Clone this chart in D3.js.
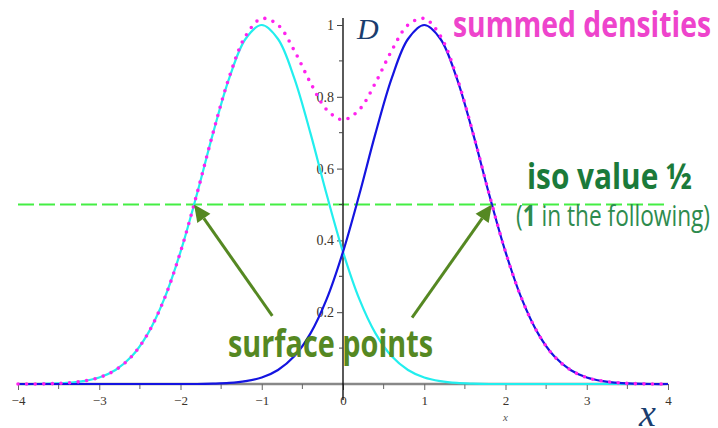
<!DOCTYPE html>
<html><head><meta charset="utf-8">
<script src="https://cdn.jsdelivr.net/npm/d3@7"></script>
<style>body{margin:0;background:#fff}svg{display:block}</style>
</head><body>
<svg id="c" width="718" height="428"></svg>
<script>
const xValues = [-4,-3.8,-3.6,-3.4,-3.2,-3,-2.8,-2.6,-2.4,-2.2,-2,-1.8,-1.6,-1.4,-1.2,-1,-0.8,-0.6,-0.4,-0.2,0,0.2,0.4,0.6,0.8,1,1.2,1.4,1.6,1.8,2,2.2,2.4,2.6,2.8,3,3.2,3.4,3.6,3.8,4];
const leftDensity = [0,0,0.001,0.003,0.008,0.018,0.039,0.077,0.141,0.237,0.368,0.527,0.698,0.852,0.961,1,0.961,0.852,0.698,0.527,0.368,0.237,0.141,0.077,0.039,0.018,0.008,0.003,0.001,0,0,0,0,0,0,0,0,0,0,0,0];
const rightDensity = [0,0,0,0,0,0,0,0,0,0,0,0,0.001,0.003,0.008,0.018,0.039,0.077,0.141,0.237,0.368,0.527,0.698,0.852,0.961,1,0.961,0.852,0.698,0.527,0.368,0.237,0.141,0.077,0.039,0.018,0.008,0.003,0.001,0,0];
const summedDensity = [0,0,0.001,0.003,0.008,0.018,0.039,0.077,0.141,0.237,0.368,0.528,0.699,0.855,0.969,1.018,1.000,0.929,0.839,0.764,0.736,0.764,0.839,0.929,1.000,1.018,0.969,0.855,0.699,0.528,0.368,0.237,0.141,0.077,0.039,0.018,0.008,0.003,0.001,0,0];
const xTicks = [-4,-3,-2,-1,0,1,2,3,4];
const xMinorTicks = [-3.5,-2.5,-1.5,-0.5,0.5,1.5,2.5,3.5];
const yTicks = [0.2,0.4,0.6,0.8,1];
const yMinorTicks = [0.1,0.3,0.5,0.7,0.9];
const isoValue = 0.5;
const surfacePoints = [[-1.833,0.5],[1.833,0.5]];
const arrowTails = [[-0.87,0.19],[0.85,0.185]];

const svg = d3.select("#c");
const x = d3.scaleLinear([-4,4],[18,668]);
const y = d3.scaleLinear([0,1],[384,25]);

// iso line
svg.append("line").attr("x1",x(-4)).attr("x2",x(4)).attr("y1",y(isoValue)).attr("y2",y(isoValue))
  .attr("stroke","#44ee44").attr("stroke-width",2).attr("stroke-dasharray","16 5");

// x axis
const gx = svg.append("g").attr("transform",`translate(0,${y(0)})`);
gx.append("line").attr("x1",x(-4)).attr("x2",x(4)).attr("stroke","#888").attr("stroke-width",2.5);
gx.selectAll(".mt").data(xMinorTicks).join("line").attr("x1",d=>x(d)).attr("x2",d=>x(d)).attr("y1",0).attr("y2",5).attr("stroke","#666");
const ax = d3.axisBottom(x).tickValues(xTicks).tickSize(6).tickPadding(6);
const gxa = svg.append("g").attr("transform",`translate(0,${y(0)})`).call(ax);
gxa.select(".domain").remove();
gxa.selectAll(".tick line").attr("stroke","#666");
gxa.selectAll(".tick text").style("font-family","'Liberation Serif', serif").style("font-size","13px").style("fill","#3a332a");

// y axis
const gy = svg.append("g").attr("transform",`translate(${x(0)},0)`);
gy.append("line").attr("y1",y(0)+16).attr("y2",18).attr("stroke","#000").attr("stroke-width",1.3);
gy.selectAll(".mt").data(yMinorTicks).join("line").attr("y1",d=>y(d)).attr("y2",d=>y(d)).attr("x1",0).attr("x2",-4).attr("stroke","#444");
const ay = d3.axisLeft(y).tickValues(yTicks).tickSize(6).tickPadding(3).tickFormat(d3.format(""));
const gya = svg.append("g").attr("transform",`translate(${x(0)},0)`).call(ay);
gya.select(".domain").remove();
gya.selectAll(".tick line").attr("stroke","#444");
gya.selectAll(".tick text").style("font-family","'Liberation Serif', serif").style("font-size","14px").style("fill","#3a332a");

// curves
const line = d3.line().x((d,i)=>x(xValues[i])).y(d=>y(d)).curve(d3.curveCatmullRom.alpha(0.5));
svg.append("path").attr("d",line(leftDensity)).attr("fill","none").attr("stroke","#22eeee").attr("stroke-width",2.2);
svg.append("path").attr("d",line(rightDensity)).attr("fill","none").attr("stroke","#1414e0").attr("stroke-width",2.2);
svg.append("path").attr("d",line(summedDensity)).attr("fill","none").attr("stroke","#ff22ee")
  .attr("stroke-width",3.6).attr("stroke-linecap","round").attr("stroke-dasharray","0 8.6");

// texts
function txt(t, px, py, size, fill, opts={}) {
  const e = svg.append("text").attr("x",px).attr("y",py).attr("font-size",size).attr("fill",fill)
    .attr("font-family",opts.family||"Open Sans").attr("font-weight",opts.weight||"normal")
    .attr("font-style",opts.style||"normal");
  if (opts.len) e.attr("textLength",opts.len).attr("lengthAdjust","spacingAndGlyphs");
  e.text(t);
  return e;
}
txt("summed densities",453,37,36,"#ee44cc",{weight:"bold",len:258});
txt("iso value ½",527,189,35,"#1b7a3a",{weight:"bold",len:165});
const fol = txt("",516,226,29,"#2e8b4e",{len:194});
fol.append("tspan").text("(");
fol.append("tspan").attr("font-weight","bold").text("1");
fol.append("tspan").text(" in the following)");
txt("surface points",228,357,37,"#558822",{weight:"bold",len:205});
txt("D",357,39,30,"#1a3d6e",{family:"Liberation Serif",style:"italic"});
txt("x",639,426,38,"#1a3d6e",{family:"Liberation Serif",style:"italic"});
txt("x",x(2),421,11,"#555",{family:"Liberation Serif",style:"italic"}).attr("text-anchor","middle");

// arrows
surfacePoints.forEach((p,i)=>{
  const t = arrowTails[i];
  const x1=x(t[0]), y1=y(t[1]), x2=x(p[0]), y2=y(p[1]);
  const ang = Math.atan2(y2-y1,x2-x1);
  const hl=17, hw=8;
  const bx = x2 - hl*Math.cos(ang), by = y2 - hl*Math.sin(ang);
  svg.append("line").attr("x1",x1).attr("y1",y1).attr("x2",bx).attr("y2",by).attr("stroke","#558822").attr("stroke-width",3);
  const nx=-Math.sin(ang), ny=Math.cos(ang);
  svg.append("path").attr("d",`M${x2},${y2}L${bx+nx*hw},${by+ny*hw}L${bx-nx*hw},${by-ny*hw}Z`).attr("fill","#558822");
});
</script>
</body></html>
